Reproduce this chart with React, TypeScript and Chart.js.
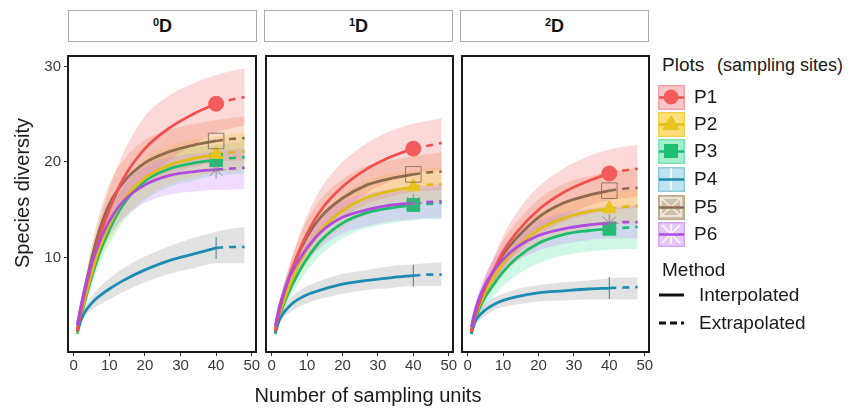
import React, { useEffect, useRef } from 'react';
import { Chart, registerables } from 'chart.js';

Chart.register(...registerables);

const FONT = '"Liberation Sans", Arial, Helvetica, sans-serif';

// ---------- data ----------
const FACETS = ['0', '1', '2'];
const SERIES = ['P1', 'P2', 'P3', 'P4', 'P5', 'P6'];
const X_TICKS = [0, 10, 20, 30, 40, 50];
const Y_TICKS = [10, 20, 30];
const X_INT = [1, 2, 3, 5, 7, 10, 14, 20, 27, 34, 40];
const X_EXT = [40, 44, 48];
const X_BAND = [1, 2, 3, 5, 7, 10, 14, 20, 27, 34, 40, 44, 48];

// q = 0
const D0_P1 = [2.3, 4.3, 6.1, 9.2, 11.9, 15.0, 18.3, 21.4, 23.6, 25.1, 26.1];
const D0_P1_EXT = [26.1, 26.5, 26.8];
const D0_P1_LO = [1.9, 3.7, 5.2, 7.9, 10.2, 12.8, 15.4, 18.0, 20.2, 21.9, 23.1, 23.5, 23.8];
const D0_P1_HI = [2.7, 4.9, 7.0, 10.5, 13.6, 17.2, 21.0, 24.8, 27.0, 28.3, 29.1, 29.5, 29.8];
const D0_P2 = [2.1, 3.9, 5.5, 8.3, 10.7, 13.4, 16.0, 18.3, 19.7, 20.4, 20.8];
const D0_P2_EXT = [20.8, 21.0, 21.1];
const D0_P2_LO = [1.8, 3.4, 4.8, 7.3, 9.4, 11.8, 14.1, 16.2, 17.7, 18.4, 18.9, 19.0, 19.1];
const D0_P2_HI = [2.4, 4.4, 6.2, 9.3, 12.0, 15.0, 17.9, 20.4, 21.7, 22.4, 22.7, 22.9, 23.1];
const D0_P3 = [2.0, 3.7, 5.2, 7.9, 10.2, 12.9, 15.6, 18.0, 19.3, 19.9, 20.2];
const D0_P3_EXT = [20.2, 20.4, 20.5];
const D0_P3_LO = [1.7, 3.2, 4.5, 7.0, 9.0, 11.4, 13.8, 16.0, 17.4, 18.1, 18.6, 18.7, 18.8];
const D0_P3_HI = [2.3, 4.2, 5.9, 8.8, 11.4, 14.4, 17.4, 20.0, 21.2, 21.6, 21.8, 22.0, 22.2];
const D0_P4 = [2.2, 3.4, 4.2, 5.2, 5.9, 6.7, 7.6, 8.7, 9.7, 10.4, 11.0];
const D0_P4_EXT = [11.0, 11.1, 11.1];
const D0_P4_LO = [1.9, 3.0, 3.7, 4.5, 5.0, 5.6, 6.4, 7.4, 8.3, 8.9, 9.4, 9.4, 9.4];
const D0_P4_HI = [2.5, 3.8, 4.7, 5.9, 6.8, 7.8, 8.9, 10.1, 11.2, 12.1, 12.7, 13.0, 13.2];
const D0_P5 = [2.4, 4.5, 6.4, 9.8, 12.6, 15.6, 17.9, 19.9, 21.1, 21.8, 22.2];
const D0_P5_EXT = [22.2, 22.4, 22.5];
const D0_P5_LO = [2.0, 3.9, 5.5, 8.5, 10.9, 13.5, 15.6, 17.5, 18.8, 19.5, 20.0, 20.1, 20.2];
const D0_P5_HI = [2.8, 5.1, 7.3, 11.1, 14.3, 17.7, 20.2, 22.3, 23.4, 24.0, 24.4, 24.6, 24.8];
const D0_P6 = [2.9, 4.9, 6.6, 9.3, 11.4, 13.8, 15.9, 17.6, 18.6, 19.0, 19.2];
const D0_P6_EXT = [19.2, 19.3, 19.4];
const D0_P6_LO = [2.5, 4.3, 5.8, 8.2, 10.1, 12.2, 14.1, 15.7, 16.6, 16.9, 17.1, 17.1, 17.2];
const D0_P6_HI = [3.3, 5.5, 7.4, 10.4, 12.7, 15.4, 17.7, 19.5, 20.5, 20.9, 21.1, 21.3, 21.4];

// q = 1
const D1_P1 = [2.3, 4.1, 5.6, 8.0, 10.0, 12.5, 15.0, 17.4, 19.3, 20.6, 21.4];
const D1_P1_EXT = [21.4, 21.7, 22.0];
const D1_P1_LO = [1.9, 3.5, 4.8, 6.8, 8.5, 10.6, 12.7, 14.9, 16.8, 18.0, 18.8, 19.0, 19.2];
const D1_P1_HI = [2.7, 4.7, 6.4, 9.2, 11.5, 14.4, 17.3, 20.0, 22.0, 23.3, 24.0, 24.3, 24.6];
const D1_P2 = [2.1, 3.7, 5.0, 7.0, 8.7, 10.8, 12.9, 14.9, 16.3, 17.0, 17.4];
const D1_P2_EXT = [17.4, 17.6, 17.7];
const D1_P2_LO = [1.8, 3.2, 4.3, 6.1, 7.6, 9.4, 11.3, 13.2, 14.5, 15.3, 15.7, 15.8, 15.9];
const D1_P2_HI = [2.4, 4.2, 5.7, 7.9, 9.8, 12.2, 14.5, 16.6, 18.1, 18.8, 19.1, 19.3, 19.5];
const D1_P3 = [2.0, 3.5, 4.7, 6.5, 8.0, 9.9, 11.8, 13.6, 14.7, 15.2, 15.5];
const D1_P3_EXT = [15.5, 15.6, 15.7];
const D1_P3_LO = [1.7, 3.0, 4.0, 5.6, 6.9, 8.6, 10.3, 12.0, 13.1, 13.6, 13.9, 14.0, 14.0];
const D1_P3_HI = [2.3, 4.0, 5.4, 7.4, 9.1, 11.2, 13.3, 15.2, 16.3, 16.8, 17.1, 17.3, 17.4];
const D1_P4 = [2.1, 3.3, 4.0, 4.9, 5.5, 6.1, 6.6, 7.2, 7.6, 7.9, 8.1];
const D1_P4_EXT = [8.1, 8.2, 8.2];
const D1_P4_LO = [1.9, 2.9, 3.5, 4.2, 4.7, 5.2, 5.7, 6.2, 6.6, 6.8, 7.0, 7.0, 7.0];
const D1_P4_HI = [2.4, 3.7, 4.5, 5.6, 6.3, 7.0, 7.6, 8.3, 8.7, 9.1, 9.3, 9.4, 9.5];
const D1_P5 = [2.4, 4.2, 5.7, 8.0, 9.9, 12.2, 14.3, 16.2, 17.6, 18.3, 18.7];
const D1_P5_EXT = [18.7, 18.9, 19.0];
const D1_P5_LO = [2.0, 3.6, 4.9, 6.9, 8.5, 10.5, 12.4, 14.2, 15.6, 16.4, 16.9, 17.0, 17.1];
const D1_P5_HI = [2.8, 4.8, 6.5, 9.1, 11.3, 13.9, 16.2, 18.2, 19.6, 20.2, 20.6, 20.8, 21.0];
const D1_P6 = [2.8, 4.6, 5.9, 7.9, 9.3, 11.0, 12.7, 14.2, 15.0, 15.5, 15.7];
const D1_P6_EXT = [15.7, 15.8, 15.9];
const D1_P6_LO = [2.4, 4.0, 5.1, 6.9, 8.1, 9.6, 11.1, 12.5, 13.3, 13.8, 14.0, 14.1, 14.1];
const D1_P6_HI = [3.2, 5.2, 6.7, 8.9, 10.5, 12.4, 14.3, 15.9, 16.7, 17.2, 17.4, 17.6, 17.7];

// q = 2
const D2_P1 = [2.2, 3.8, 5.0, 6.9, 8.4, 10.6, 12.7, 15.0, 16.8, 18.0, 18.8];
const D2_P1_EXT = [18.8, 19.1, 19.3];
const D2_P1_LO = [1.8, 3.3, 4.3, 5.9, 7.1, 8.9, 10.7, 12.7, 14.3, 15.4, 16.0, 16.2, 16.4];
const D2_P1_HI = [2.6, 4.3, 5.7, 7.9, 9.7, 12.3, 14.8, 17.4, 19.3, 20.6, 21.3, 21.6, 21.8];
const D2_P2 = [2.1, 3.6, 4.7, 6.4, 7.7, 9.4, 11.1, 12.9, 14.1, 14.8, 15.1];
const D2_P2_EXT = [15.1, 15.3, 15.4];
const D2_P2_LO = [1.8, 3.1, 4.0, 5.5, 6.6, 8.1, 9.6, 11.2, 12.4, 13.0, 13.4, 13.5, 13.6];
const D2_P2_HI = [2.4, 4.1, 5.4, 7.3, 8.8, 10.7, 12.6, 14.6, 15.8, 16.5, 16.8, 17.0, 17.2];
const D2_P3 = [2.0, 3.4, 4.4, 5.9, 7.0, 8.5, 10.0, 11.5, 12.4, 12.8, 13.0];
const D2_P3_EXT = [13.0, 13.1, 13.2];
const D2_P3_LO = [1.7, 2.9, 3.7, 4.9, 5.8, 7.0, 8.2, 9.4, 10.2, 10.6, 10.8, 10.9, 10.9];
const D2_P3_HI = [2.3, 3.9, 5.1, 6.9, 8.2, 10.0, 11.8, 13.5, 14.5, 14.9, 15.1, 15.2, 15.3];
const D2_P4 = [2.0, 3.2, 3.8, 4.5, 5.0, 5.5, 5.9, 6.3, 6.5, 6.7, 6.8];
const D2_P4_EXT = [6.8, 6.85, 6.9];
const D2_P4_LO = [1.8, 2.8, 3.3, 3.9, 4.4, 4.8, 5.1, 5.4, 5.5, 5.6, 5.6, 5.6, 5.6];
const D2_P4_HI = [2.3, 3.6, 4.3, 5.1, 5.7, 6.2, 6.7, 7.1, 7.4, 7.6, 7.8, 7.9, 7.9];
const D2_P5 = [2.3, 3.9, 5.1, 7.0, 8.4, 10.3, 12.1, 14.2, 15.7, 16.5, 17.0];
const D2_P5_EXT = [17.0, 17.2, 17.3];
const D2_P5_LO = [1.9, 3.4, 4.4, 6.0, 7.2, 8.8, 10.4, 12.3, 13.7, 14.5, 15.0, 15.1, 15.2];
const D2_P5_HI = [2.7, 4.4, 5.8, 8.0, 9.6, 11.8, 13.8, 16.1, 17.7, 18.5, 19.0, 19.2, 19.4];
const D2_P6 = [2.7, 4.3, 5.5, 7.2, 8.4, 9.8, 11.1, 12.3, 13.0, 13.4, 13.6];
const D2_P6_EXT = [13.6, 13.7, 13.7];
const D2_P6_LO = [2.3, 3.7, 4.7, 6.2, 7.2, 8.4, 9.6, 10.7, 11.4, 11.8, 12.0, 12.0, 12.0];
const D2_P6_HI = [3.1, 4.9, 6.3, 8.2, 9.6, 11.2, 12.6, 13.9, 14.7, 15.1, 15.3, 15.4, 15.5];

const PANEL_DATA = [
  {
    est: [D0_P1, D0_P2, D0_P3, D0_P4, D0_P5, D0_P6],
    ext: [D0_P1_EXT, D0_P2_EXT, D0_P3_EXT, D0_P4_EXT, D0_P5_EXT, D0_P6_EXT],
    lo: [D0_P1_LO, D0_P2_LO, D0_P3_LO, D0_P4_LO, D0_P5_LO, D0_P6_LO],
    hi: [D0_P1_HI, D0_P2_HI, D0_P3_HI, D0_P4_HI, D0_P5_HI, D0_P6_HI],
  },
  {
    est: [D1_P1, D1_P2, D1_P3, D1_P4, D1_P5, D1_P6],
    ext: [D1_P1_EXT, D1_P2_EXT, D1_P3_EXT, D1_P4_EXT, D1_P5_EXT, D1_P6_EXT],
    lo: [D1_P1_LO, D1_P2_LO, D1_P3_LO, D1_P4_LO, D1_P5_LO, D1_P6_LO],
    hi: [D1_P1_HI, D1_P2_HI, D1_P3_HI, D1_P4_HI, D1_P5_HI, D1_P6_HI],
  },
  {
    est: [D2_P1, D2_P2, D2_P3, D2_P4, D2_P5, D2_P6],
    ext: [D2_P1_EXT, D2_P2_EXT, D2_P3_EXT, D2_P4_EXT, D2_P5_EXT, D2_P6_EXT],
    lo: [D2_P1_LO, D2_P2_LO, D2_P3_LO, D2_P4_LO, D2_P5_LO, D2_P6_LO],
    hi: [D2_P1_HI, D2_P2_HI, D2_P3_HI, D2_P4_HI, D2_P5_HI, D2_P6_HI],
  },
];

// ---------- styles ----------
const LINE_COLORS = ['#F1504C', '#E0BC14', '#19BD6C', '#1C8CB4', '#8E6B4F', '#B04AE0'];
const BAND_COLORS = [
  'rgba(246,120,120,0.28)',
  'rgba(250,215,40,0.28)',
  'rgba(40,225,140,0.22)',
  'rgba(150,150,150,0.28)',
  'rgba(240,150,100,0.32)',
  'rgba(200,130,250,0.28)',
];
const MARKERS = [
  { style: 'circle', radius: 7.5, bg: '#F45B5B', border: '#F45B5B', bw: 1, rot: 0 },
  { style: 'triangle', radius: 8, bg: '#E8C320', border: '#E8C320', bw: 1, rot: 0 },
  { style: 'rect', radius: 9, bg: '#1FBF70', border: '#1FBF70', bw: 1, rot: 0 },
  { style: 'line', radius: 11, bg: 'rgba(0,0,0,0)', border: '#3C7F9E', bw: 1, rot: 90 },
  { style: 'rect', radius: 11, bg: 'rgba(0,0,0,0)', border: 'rgba(120,100,80,0.8)', bw: 1, rot: 0 },
  { style: 'star', radius: 9, bg: 'rgba(0,0,0,0)', border: 'rgba(140,120,160,0.85)', bw: 1, rot: 0 },
];
// drawing priority (higher drawn on top)
const Z = [5, 2, 1, 3, 4, 6];

const KEY_FILL = ['#F8C6C6', '#FBE07A', '#A6EFCD', '#BFE3F0', '#CFC0A8', '#E7C8FA'];
const KEY_STROKE = ['#F2A3A3', '#F3D04A', '#78E2B6', '#8CCBE0', '#BBA98C', '#D5A8F5'];

const Y_MIN = 0.1;
const Y_MAX = 31.1;
const X_MIN = -1.6;
const X_MAX = 51.2;

const panelBorder = {
  id: 'panelBorder',
  afterDatasetsDraw(chart: any) {
    const { ctx, chartArea } = chart;
    ctx.save();
    ctx.strokeStyle = '#1a1a1a';
    ctx.lineWidth = 2;
    ctx.strokeRect(chartArea.left, chartArea.top, chartArea.right - chartArea.left, chartArea.bottom - chartArea.top);
    ctx.restore();
  },
};

function buildConfig(p: number, padL: number, padR: number, showY: boolean): any {
  const pd = PANEL_DATA[p];
  const datasets: any[] = [];
  SERIES.forEach((name, s) => {
    const loIndex = datasets.length;
    datasets.push({
      label: name + ' lo',
      data: X_BAND.map((x, i) => ({ x, y: pd.lo[s][i] })),
      borderWidth: 0,
      pointRadius: 0,
      fill: false,
      cubicInterpolationMode: 'monotone',
      order: 200 - Z[s] * 2 + 1,
    });
    datasets.push({
      label: name + ' hi',
      data: X_BAND.map((x, i) => ({ x, y: pd.hi[s][i] })),
      borderWidth: 0,
      pointRadius: 0,
      fill: { target: loIndex },
      backgroundColor: BAND_COLORS[s],
      cubicInterpolationMode: 'monotone',
      order: 200 - Z[s] * 2,
    });
  });
  SERIES.forEach((name, s) => {
    datasets.push({
      label: name + ' extrapolated',
      data: X_EXT.map((x, i) => ({ x, y: pd.ext[s][i] })),
      borderColor: LINE_COLORS[s],
      borderWidth: 2.6,
      borderDash: [7, 6],
      pointRadius: 0,
      fill: false,
      cubicInterpolationMode: 'monotone',
      order: 100 - Z[s],
    });
  });
  SERIES.forEach((name, s) => {
    const m = MARKERS[s];
    const last = X_INT.length - 1;
    datasets.push({
      label: name,
      data: X_INT.map((x, i) => ({ x, y: pd.est[s][i] })),
      borderColor: LINE_COLORS[s],
      borderWidth: 2.8,
      fill: false,
      cubicInterpolationMode: 'monotone',
      pointStyle: m.style,
      pointRotation: m.rot,
      pointRadius: (ctx: any) => (ctx.dataIndex === last ? m.radius : 0),
      pointBackgroundColor: m.bg,
      pointBorderColor: m.border,
      pointBorderWidth: m.bw,
      order: 50 - Z[s],
    });
  });

  const tickFont = { family: FONT, size: 15 };
  return {
    type: 'line',
    data: { datasets },
    options: {
      animation: false,
      responsive: false,
      maintainAspectRatio: false,
      events: [],
      layout: { padding: { left: padL, right: padR, top: 8, bottom: 0 } },
      plugins: { legend: { display: false }, tooltip: { enabled: false } },
      scales: {
        x: {
          type: 'linear',
          min: X_MIN,
          max: X_MAX,
          afterBuildTicks: (sc: any) => {
            sc.ticks = X_TICKS.map((v) => ({ value: v }));
          },
          afterFit: (sc: any) => {
            sc.height = 28;
          },
          grid: { display: true, drawOnChartArea: false, drawTicks: true, tickLength: 4, color: '#333', lineWidth: 1 },
          border: { display: false },
          ticks: { font: tickFont, color: '#3a3a3a', padding: 1, maxRotation: 0, autoSkip: false },
        },
        y: {
          type: 'linear',
          display: showY,
          min: Y_MIN,
          max: Y_MAX,
          afterBuildTicks: (sc: any) => {
            sc.ticks = Y_TICKS.map((v) => ({ value: v }));
          },
          afterFit: (sc: any) => {
            sc.width = showY ? 68 : 0;
          },
          grid: { display: true, drawOnChartArea: false, drawTicks: true, tickLength: 4, color: '#333', lineWidth: 1 },
          border: { display: false },
          ticks: { font: tickFont, color: '#3a3a3a', padding: 3 },
        },
      },
    },
    plugins: [panelBorder],
  };
}

const CANVAS_TOP = 44;
const CANVAS_H = 336;

function Panel({ p, left, width, padL, padR, showY }: any) {
  const ref = useRef<HTMLCanvasElement>(null);
  useEffect(() => {
    const chart = new Chart(ref.current as HTMLCanvasElement, buildConfig(p, padL, padR, showY));
    return () => chart.destroy();
  }, []);
  return (
    <canvas
      ref={ref}
      width={width}
      height={CANVAS_H}
      style={{ position: 'absolute', left, top: CANVAS_TOP, width, height: CANVAS_H }}
    />
  );
}

const PANEL_LEFT = [68, 264, 460];
const PANEL_W = 189;

function Strip({ q, left }: any) {
  return (
    <div
      style={{
        position: 'absolute',
        left,
        top: 10,
        width: PANEL_W,
        height: 32,
        boxSizing: 'border-box',
        border: '1.5px solid #ababab',
        background: '#fff',
        display: 'flex',
        alignItems: 'center',
        justifyContent: 'center',
        fontFamily: FONT,
        fontWeight: 'bold',
        fontSize: 18,
        color: '#111',
      }}
    >
      <span>
        <span style={{ fontSize: 11, verticalAlign: 6 }}>{q}</span>D
      </span>
    </div>
  );
}

function KeyMarker({ s }: any) {
  switch (s) {
    case 0:
      return <circle cx={13} cy={12} r={7.5} fill="#F45B5B" />;
    case 1:
      return <polygon points="13,3 22,18 4,18" fill="#E8C320" />;
    case 2:
      return <rect x={6} y={5} width={14} height={14} fill="#1FBF70" />;
    case 3:
      return <line x1={13} y1={1} x2={13} y2={23} stroke="#fff" strokeWidth={1.5} />;
    case 4:
      return (
        <g stroke="#f4f0e8" strokeWidth={1.5}>
          <line x1={3} y1={3} x2={23} y2={21} />
          <line x1={23} y1={3} x2={3} y2={21} />
          <rect x={3} y={3} width={20} height={18} fill="none" />
        </g>
      );
    default:
      return (
        <g stroke="#fff" strokeWidth={1.5}>
          <line x1={13} y1={2} x2={13} y2={22} />
          <line x1={4} y1={3} x2={22} y2={21} />
          <line x1={22} y1={3} x2={4} y2={21} />
        </g>
      );
  }
}

function LegendKey({ s, top }: any) {
  const c = LINE_COLORS[s];
  const lineOnTop = s >= 3;
  return (
    <svg width={27} height={25} style={{ position: 'absolute', left: 658, top }}>
      <rect x={0.75} y={0.75} width={25.5} height={23.5} fill={KEY_FILL[s]} stroke={KEY_STROKE[s]} strokeWidth={1.5} />
      {!lineOnTop && <line x1={1} y1={12.5} x2={26} y2={12.5} stroke={c} strokeWidth={2.5} />}
      <KeyMarker s={s} />
      {lineOnTop && <line x1={1} y1={12.5} x2={26} y2={12.5} stroke={c} strokeWidth={2.5} />}
    </svg>
  );
}

const textBase: any = { position: 'absolute', fontFamily: FONT, color: '#1a1a1a', whiteSpace: 'nowrap', lineHeight: '20px' };

export default function App() {
  useEffect(() => {
    document.body.style.margin = '0';
  }, []);
  const keyTops = [85, 112, 139, 167, 195, 222];
  return (
    <div style={{ position: 'absolute', left: 0, top: 0, width: 861, height: 409, background: '#fff', overflow: 'hidden' }}>
      {FACETS.map((q, i) => (
        <Strip key={q} q={q} left={PANEL_LEFT[i]} />
      ))}
      <Panel p={0} left={0} width={268} padL={0} padR={11} showY={true} />
      <Panel p={1} left={254} width={211} padL={10} padR={12} showY={false} />
      <Panel p={2} left={450} width={211} padL={10} padR={12} showY={false} />

      <div
        style={{
          ...textBase,
          left: 22,
          top: 193,
          fontSize: 20,
          transform: 'translate(-50%, -50%) rotate(-90deg)',
        }}
      >
        Species diversity
      </div>
      <div style={{ ...textBase, left: 368, top: 395, fontSize: 20, transform: 'translate(-50%, -50%)' }}>
        Number of sampling units
      </div>

      <div style={{ ...textBase, left: 662, top: 55, fontSize: 19 }}>Plots</div>
      <div style={{ ...textBase, left: 717, top: 55, fontSize: 18 }}>(sampling sites)</div>
      {SERIES.map((name, s) => (
        <React.Fragment key={name}>
          <LegendKey s={s} top={keyTops[s]} />
          <div style={{ ...textBase, left: 694, top: keyTops[s] + 2, fontSize: 19 }}>{name}</div>
        </React.Fragment>
      ))}
      <div style={{ ...textBase, left: 662, top: 260, fontSize: 19 }}>Method</div>
      <svg width={28} height={10} style={{ position: 'absolute', left: 658, top: 290 }}>
        <line x1={1} y1={5} x2={26} y2={5} stroke="#111" strokeWidth={3} />
      </svg>
      <div style={{ ...textBase, left: 699, top: 285, fontSize: 19 }}>Interpolated</div>
      <svg width={28} height={10} style={{ position: 'absolute', left: 658, top: 318 }}>
        <line x1={1} y1={5} x2={26} y2={5} stroke="#111" strokeWidth={3} strokeDasharray="7 4" />
      </svg>
      <div style={{ ...textBase, left: 699, top: 313, fontSize: 19 }}>Extrapolated</div>
    </div>
  );
}
